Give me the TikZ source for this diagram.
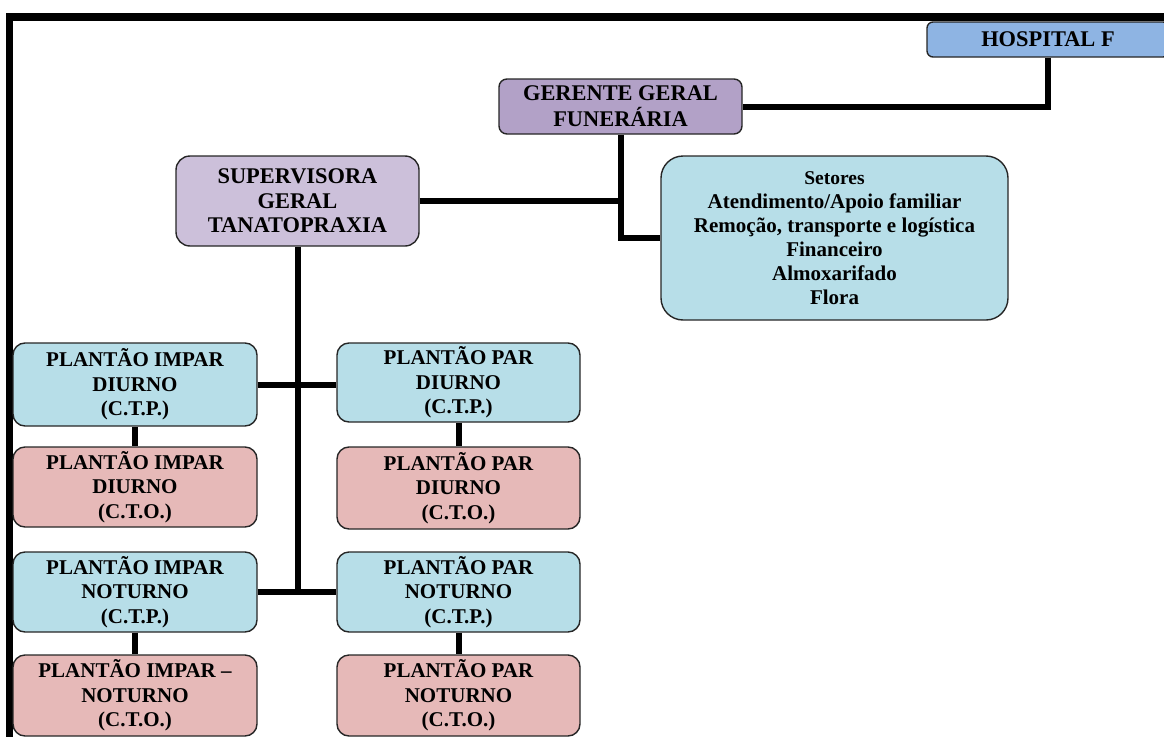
\documentclass[tikz,border=0pt]{standalone}
\usepackage{fontspec}
\setmainfont{Liberation Serif}
\definecolor{hospblue}{HTML}{8EB4E3}
\definecolor{gerpurple}{HTML}{B2A1C7}
\definecolor{suplilac}{HTML}{CCC0DA}
\definecolor{cyanbox}{HTML}{B7DEE8}
\definecolor{redbox}{HTML}{E6B9B8}
\tikzset{
  box/.style={draw=black!85, line width=1.4pt, inner sep=0pt, align=center},
  topfont/.style={font=\fontsize{22.4}{26}\selectfont\bfseries},
  shiftfont/.style={font=\fontsize{21}{24.7}\selectfont\bfseries},
  setfont/.style={font=\fontsize{21}{24}\selectfont\bfseries},
  lbox/.style={box, shiftfont, rounded corners=12pt, minimum width=244pt},
  rbox/.style={box, shiftfont, rounded corners=12pt, minimum width=243pt},
  ctp/.style={fill=cyanbox},
  cto/.style={fill=redbox},
  conn/.style={line width=6pt, line join=miter},
  frame/.style={line width=7.5pt, line join=miter}
}
\begin{document}
\begin{tikzpicture}[x=1pt,y=-1pt]
  \clip (0,0) rectangle (1164,736);

  % outer frame
  \draw[frame] (9.5,760) -- (9.5,17) -- (1200,17);

  % management boxes
  \node[box, topfont, fill=hospblue, rounded corners=6pt,
        minimum width=242pt, minimum height=35pt] (hosp) at (1048,39.5) {HOSPITAL F};
  \node[box, topfont, fill=gerpurple, rounded corners=8pt,
        minimum width=243pt, minimum height=55pt] (ger) at (620.5,106.5)
        {GERENTE GERAL\\FUNERÁRIA};
  \node[box, font=\fontsize{22.4}{24.5}\selectfont\bfseries, fill=suplilac, rounded corners=14pt,
        minimum width=243pt, minimum height=90pt] (sup) at (297.5,201)
        {SUPERVISORA\\GERAL\\TANATOPRAXIA};
  \node[box, setfont, fill=cyanbox, rounded corners=22pt,
        minimum width=347pt, minimum height=164pt] (set) at (834.5,238)
        {{\fontsize{19.5}{24}\selectfont Setores}\\Atendimento/Apoio familiar\\
         Remoção, transporte e logística\\Financeiro\\Almoxarifado\\Flora};

  % shift boxes, odd days
  \node[lbox, ctp, minimum height=83pt] (l1) at (135,384.5)
        {PLANTÃO IMPAR\\DIURNO\\(C.T.P.)};
  \node[lbox, cto, minimum height=80pt] (l2) at (135,487)
        {PLANTÃO IMPAR\\DIURNO\\(C.T.O.)};
  \node[lbox, ctp, minimum height=80pt] (l3) at (135,592)
        {PLANTÃO IMPAR\\NOTURNO\\(C.T.P.)};
  \node[lbox, cto, minimum height=81pt] (l4) at (135,695.5)
        {PLANTÃO IMPAR –\\NOTURNO\\(C.T.O.)};

  % shift boxes, even days
  \node[rbox, ctp, minimum height=79pt] (r1) at (458.5,382.5)
        {PLANTÃO PAR\\DIURNO\\(C.T.P.)};
  \node[rbox, cto, minimum height=82pt] (r2) at (458.5,488)
        {PLANTÃO PAR\\DIURNO\\(C.T.O.)};
  \node[rbox, ctp, minimum height=80pt] (r3) at (458.5,592)
        {PLANTÃO PAR\\NOTURNO\\(C.T.P.)};
  \node[rbox, cto, minimum height=81pt] (r4) at (458.5,695.5)
        {PLANTÃO PAR\\NOTURNO\\(C.T.O.)};

  % connectors
  \draw[conn] (hosp.south) |- (ger.east);
  \draw[conn] (ger.south) |- (set.west);
  \draw[conn] (sup.east) -- (sup.east -| ger.south);
  \draw[conn] (sup.south) -- (sup.south |- l3.east);
  \draw[conn] (l1.east) -- (l1.east -| r1.west);
  \draw[conn] (l3.east) -- (r3.west);
  \draw[conn] (l1.south) -- (l2.north);
  \draw[conn] (l3.south) -- (l4.north);
  \draw[conn] (r1.south) -- (r2.north);
  \draw[conn] (r3.south) -- (r4.north);
\end{tikzpicture}
\end{document}
